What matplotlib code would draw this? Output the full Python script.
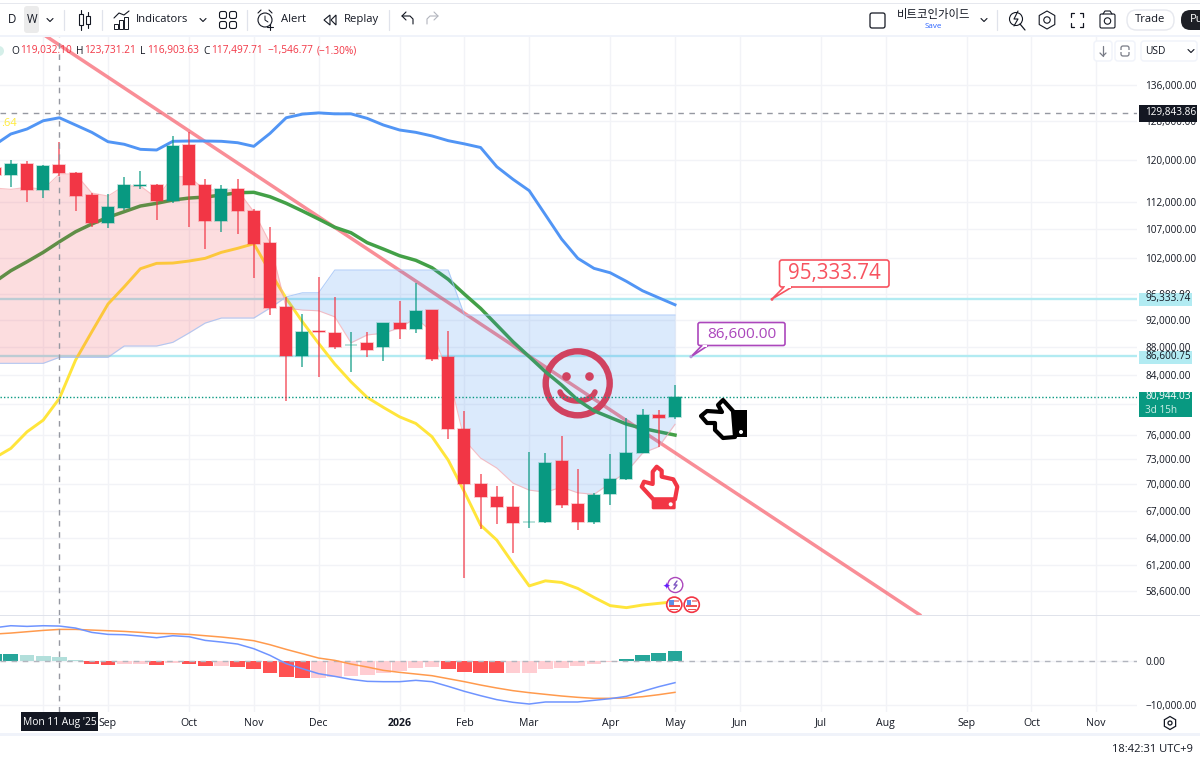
import numpy as np
import matplotlib
matplotlib.use('Agg')
import matplotlib.pyplot as plt
from matplotlib.patches import Rectangle, Circle, Polygon, FancyBboxPatch, RegularPolygon
from matplotlib.ticker import FixedLocator, FixedFormatter, NullLocator
from matplotlib.transforms import blended_transform_factory

plt.rcParams['font.family'] = ['Open Sans', 'Noto Sans CJK KR', 'DejaVu Sans']

# weeks counted back from the current bar (May 2026 = 0)
weeks = list(range(-42, 1))

opens = [118500, 117140, 119240, 114200, 119032.10, 117497.71, 113190, 108100, 110830, 115000, 115150, 112070, 123010, 115150, 108510, 114390, 110280, 104560, 93950, 86640, 90310, 90090, 88230, 88530, 87900, 91480, 90660, 93520, 86450, 76780, 70060, 68510, 67410, 65700, 65680, 72700, 67720, 65680, 68860, 70620, 73750, 78570, 78230]
highs = [119500, 120040, 119780, 119040, 123731.21, 117660, 113630, 113440, 116750, 117860, 115290, 124930, 125830, 116300, 115150, 116300, 110590, 107320, 95590, 92890, 98850, 95590, 90110, 90200, 91570, 94930, 97770, 93520, 90350, 79090, 71150, 69810, 69810, 73870, 73680, 75830, 71740, 69000, 73600, 78170, 79310, 79180, 82530]
lows = [116500, 114820, 111940, 112680, 116903.63, 110280, 107430, 107250, 110460, 114330, 108640, 111700, 107430, 103560, 106540, 106190, 98690, 92760, 80380, 85100, 83700, 87650, 84320, 86540, 85960, 89070, 89960, 85960, 75520, 59840, 64930, 65460, 62380, 65100, 65600, 67230, 64850, 65490, 67600, 70430, 73670, 74420, 77960]
closes = [117020, 119240, 114200, 118900, 117497.71, 113120, 108100, 111070, 115150, 115200, 112070, 122870, 115150, 108510, 114390, 110280, 104440, 93880, 86640, 90200, 90160, 88010, 88300, 87460, 91480, 90660, 93410, 86250, 76760, 70060, 68510, 67410, 65600, 65780, 72500, 67600, 65680, 68740, 70550, 73680, 78490, 78180, 80944.03]

bb_upper = [123080, 125350, 126400, 128150, 128790, 127240, 125700, 123760, 123230, 122200, 122060, 123840, 123900, 123900, 123840, 123550, 122810, 125480, 128790, 129570, 129840, 129630, 129630, 128660, 127240, 126190, 125700, 124950, 123970, 123310, 122570, 118710, 116250, 114080, 109580, 105250, 101930, 100240, 99510, 98100, 96570, 95450, 94350]
bb_basis = [98000, 99850, 101350, 102950, 104780, 106540, 107920, 109130, 110150, 111200, 111700, 112310, 112680, 112870, 113250, 113690, 113760, 112930, 111700, 110280, 108820, 107330, 106360, 104620, 103510, 102370, 101590, 100350, 98430, 96030, 93780, 91220, 88720, 86540, 84400, 82550, 80510, 79090, 78220, 77360, 76810, 76380, 75960]
bb_lower = [73130, 74290, 76370, 77870, 80740, 86060, 90200, 94460, 97210, 100180, 101080, 101130, 101470, 101930, 102950, 103640, 104440, 99680, 95360, 91720, 88480, 85490, 83000, 80870, 79540, 78300, 77440, 75750, 72860, 69110, 65390, 63780, 61350, 59100, 59600, 59440, 58850, 57980, 57190, 57000, 57250, 57410, 57570]

span_a = [114570, 114330, 114710, 114330, 117280, 117280, 113630, 113060, 114970, 114970, 112680, 116750, 116750, 114200, 114200, 114200, 110150, 104560, 93830, 93520, 93410, 92470, 88560, 89730, 89990, 90800, 92290, 90200, 84220, 75330, 73100, 71900, 70120, 69310, 69080, 69650, 69000, 68820, 70120, 71430, 73720, 74510, 77330]
span_b = [85590, 85590, 85590, 85590, 86450, 86450, 86450, 86450, 88090, 88090, 88090, 88630, 90020, 91520, 92290, 92290, 92290, 93830, 95590, 96250, 96250, 99960, 99960, 99960, 99960, 99960, 99960, 99960, 99960, 92750, 92750, 92750, 92750, 92750, 92750, 92750, 92750, 92750, 92750, 92750, 92750, 92750, 92750]

macd_hist = [1430, 1440, 1200, 1050, 750, 225, -680, -900, -825, -825, -1050, -525, -680, -1200, -1200, -1425, -1955, -2855, -3760, -3910, -3910, -3690, -3530, -3230, -2705, -2255, -1580, -1425, -1955, -2480, -2855, -2860, -2855, -2705, -1805, -1580, -1200, -825, -300, 450, 1280, 1655, 2180]
macd_line = [7440, 7895, 7745, 7895, 7820, 7365, 6390, 5940, 5865, 5565, 5190, 5640, 5415, 4585, 4210, 3760, 2705, 1205, -675, -1805, -2930, -3535, -4210, -4660, -4735, -4735, -4435, -4735, -5790, -6915, -7895, -8795, -9395, -9775, -9320, -9320, -9320, -8945, -8570, -8045, -6915, -5865, -4960]
signal_line = [6015, 6240, 6540, 6840, 7065, 7065, 6915, 6765, 6615, 6390, 6165, 6090, 5940, 5640, 5340, 4960, 4510, 3610, 2555, 1580, 600, 75, -750, -1430, -2180, -2630, -3005, -3385, -4060, -4735, -5490, -6165, -6765, -7215, -7595, -7970, -8270, -8495, -8495, -8420, -8120, -7670, -7140]

price_ticks = [136000, 128000, 120000, 112000, 107000, 102000, 96000, 92000, 88000, 84000, 80000, 76000, 73000, 70000, 67000, 64000, 61200, 58600]
# 80,000 and the first Aug sit fully under a label tag in the chart, so no text for them
price_labels = [f'{p:,.2f}' if p != 80000 else '' for p in price_ticks]
month_weeks = [-39, -35, -30, -26, -22, -17, -13, -9, -4, 0, 4, 9, 13, 18, 22, 26]
month_labels = ['', 'Sep', 'Oct', 'Nov', 'Dec', '2026', 'Feb', 'Mar', 'Apr', 'May', 'Jun', 'Jul', 'Aug', 'Sep', 'Oct', 'Nov']

trend_weeks = [-39.2, 15.1]
trend_prices = [148500, 56330]
level_high = 129843.86
level_upper = 95333.74
level_lower = 86600.75
last_close = 80944.03
cross_week = -38

GREEN = '#089981'
RED = '#f23645'
GRID = '#f2f3f7'
TEXT = '#131722'
BAND = '#f0f3fa'

fig = plt.figure(figsize=(12, 7.62), dpi=100, facecolor='white')


def px_axes(x0, y0, x1, y1):
    return fig.add_axes([x0 / 1200, 1 - y1 / 762, (x1 - x0) / 1200, (y1 - y0) / 762])


ax = px_axes(0, 37, 1137, 615)
ax_macd = px_axes(0, 616, 1137, 712)
# pixel layer for the toolbar, drawings and price labels
chrome = fig.add_axes([0, 0, 1, 1], zorder=10)
chrome.set_xlim(0, 1200)
chrome.set_ylim(762, 0)
chrome.axis('off')
chrome.patch.set_alpha(0)

xlim = (-675 / 16.2, (1137 - 675) / 16.2)

# ---- price pane
ax.set_yscale('log')
ax.set_xlim(xlim)
ax.set_ylim(56307, 147310)
ax.yaxis.tick_right()
ax.yaxis.set_major_locator(FixedLocator(price_ticks))
ax.yaxis.set_major_formatter(FixedFormatter(price_labels))
ax.yaxis.set_minor_locator(NullLocator())
ax.xaxis.set_major_locator(FixedLocator(month_weeks))
ax.xaxis.set_minor_locator(NullLocator())
ax.tick_params(axis='y', length=0, pad=5.8, labelsize=7.2, labelcolor=TEXT)
ax.tick_params(axis='x', length=0, labelbottom=False)
ax.grid(True, color=GRID, lw=1)
ax.set_axisbelow(True)
for s in ax.spines.values():
    s.set_visible(False)

ax.axhline(level_upper, color='#b2ebf2', lw=1.7, zorder=1.2)
ax.axhline(level_lower, color='#b2ebf2', lw=1.7, zorder=1.2)
ax.axhline(level_high, color='#9598a1', lw=1, dashes=(4, 4), zorder=1.3)
ax.plot(trend_weeks, trend_prices, color='#f7525f', alpha=0.65, lw=2.5, zorder=1.5)

# smiley is a drawing, it sits under the cloud too
smile_c = '#f23645'
ax.add_patch(Circle((577.7, 383.3), 32, fill=False, ec=smile_c, lw=4.6, transform=chrome.transData, zorder=1.6))
ax.add_patch(Circle((566.5, 376.5), 4.3, fc=smile_c, ec='none', transform=chrome.transData, zorder=1.6))
ax.add_patch(Circle((589.5, 376.5), 4.3, fc=smile_c, ec='none', transform=chrome.transData, zorder=1.6))
ang = np.linspace(0.25, np.pi - 0.25, 30)
ax.plot(577.5 + 18 * np.cos(ang), 389 + 12 * np.sin(ang), color=smile_c, lw=4, solid_capstyle='round',
        transform=chrome.transData, zorder=1.6)

ax.plot(weeks, bb_upper, color='#5195f5', lw=2.1, zorder=2)
ax.plot(weeks, bb_basis, color='#43a047', lw=2.5, zorder=2)
ax.plot(weeks, bb_lower, color='#ffe53b', lw=2.1, zorder=2)

a = np.array(span_a, dtype=float)
b = np.array(span_b, dtype=float)
ax.fill_between(weeks, a, b, where=a >= b, interpolate=True, color=RED, alpha=0.17, lw=0, zorder=3)
ax.fill_between(weeks, a, b, where=a <= b, interpolate=True, color='#2a80ee', alpha=0.165, lw=0, zorder=3)
ax.plot(weeks, span_a, color='#f7a8ae', lw=0.8, alpha=0.7, zorder=3.1)
ax.plot(weeks, span_b, color='#9fc2f7', lw=0.8, alpha=0.8, zorder=3.1)

ax.axhline(last_close, color=GREEN, lw=1, ls=(0, (1, 1.5)), zorder=3.2)

for w, o, h, l, c in zip(weeks, opens, highs, lows, closes):
    col = GREEN if c >= o else RED
    ax.vlines(w, l, h, color=col, lw=1.1, alpha=0.8, zorder=3.5)
    ax.bar(w, abs(c - o), bottom=min(o, c), width=0.75, color=col, edgecolor=col + '55', lw=1.2, zorder=4)

ax.axvline(cross_week, color='#9598a1', lw=1, dashes=(4, 4), zorder=3.6)

# ---- macd pane
ax_macd.set_xlim(xlim)
ax_macd.set_ylim(-11580, 10090)
ax_macd.yaxis.tick_right()
ax_macd.yaxis.set_major_locator(FixedLocator([0, -10000]))
ax_macd.yaxis.set_major_formatter(FixedFormatter(['0.00', '\u221210,000.00']))
ax_macd.xaxis.set_major_locator(FixedLocator(month_weeks))
ax_macd.xaxis.set_major_formatter(FixedFormatter(month_labels))
ax_macd.tick_params(axis='y', length=0, pad=5.8, labelsize=7.2, labelcolor=TEXT)
ax_macd.tick_params(axis='x', length=0, pad=4, labelsize=7.6, labelcolor=TEXT)
ax_macd.grid(True, color=GRID, lw=1)
ax_macd.set_axisbelow(True)
for s in ax_macd.spines.values():
    s.set_visible(False)
for lab, txt in zip(ax_macd.get_xticklabels(), month_labels):
    if txt == '2026':
        lab.set_fontweight('bold')

bar_colors = []
for i, v in enumerate(macd_hist):
    prev = macd_hist[i - 1] if i else v
    if v >= 0:
        bar_colors.append('#26a69a' if v >= prev else '#b2dfdb')
    else:
        bar_colors.append('#ff5252' if v < prev else '#ffcdd2')
ax_macd.bar(weeks, macd_hist, width=0.92, color=bar_colors, zorder=2)
ax_macd.axhline(0, color='#b2b5be', lw=1, dashes=(4, 4), zorder=2.5)
ax_macd.plot(weeks, signal_line, color='#ff9a4d', lw=1.1, zorder=3)
ax_macd.plot(weeks, macd_line, color='#6f94ff', lw=1.1, zorder=3)
ax_macd.axvline(cross_week, color='#9598a1', lw=1, dashes=(4, 4), zorder=3)


# ---- chrome helpers
def rect(x0, y0, x1, y1, fc='white', ec='none', lw=1, z=1):
    chrome.add_patch(Rectangle((x0, y0), x1 - x0, y1 - y0, fc=fc, ec=ec, lw=lw, zorder=z))


def pill(x0, y0, x1, y1, r, fc='white', ec='none', lw=1, z=2):
    chrome.add_patch(FancyBboxPatch((x0 + r, y0 + r), x1 - x0 - 2 * r, y1 - y0 - 2 * r,
                                    boxstyle=f'round,pad={r},rounding_size={r}', fc=fc, ec=ec, lw=lw, zorder=z))


def line(xs, ys, color=TEXT, lw=1, z=3):
    chrome.plot(xs, ys, color=color, lw=lw, zorder=z, solid_capstyle='round', solid_joinstyle='round')


def text(x, y, s, size=8, color=TEXT, ha='left', z=4, **kw):
    chrome.text(x, y, s, fontsize=size, color=color, ha=ha, va='center', zorder=z, **kw)


def chevron(x, y, color=TEXT):
    line([x - 3, x, x + 3], [y - 1.5, y + 1.5, y - 1.5], color=color, lw=0.8)


# panes and bands
rect(0, 0, 1200, 35, fc='white')
rect(0, 2.5, 1200, 3.6, fc='#e6e8ee', z=1.1)
rect(0, 35, 1200, 37, fc=BAND)
rect(0, 615, 1200, 616, fc='#e0e3eb')
rect(0, 733, 1200, 735.5, fc=BAND)

# toolbar left
pill(24, 6, 39, 33, 3, fc='#ebebeb')
text(12, 19.5, 'D', 8.3, ha='center')
text(32, 19.5, 'W', 8.3, ha='center')
chevron(50, 20)
for x in (64, 102, 247, 389, 997):
    line([x, x], [10, 30], color='#e0e3eb', lw=0.9)
# candle icon
rect(79, 14, 83, 25, fc='none', ec=TEXT, lw=0.8)
line([81, 81], [10, 14], lw=0.8)
line([81, 81], [25, 30], lw=0.8)
rect(86, 16, 90, 24, fc='none', ec=TEXT, lw=0.8)
line([88, 88], [12, 16], lw=0.8)
line([88, 88], [24, 28], lw=0.8)
# indicators icon
for x0, y0 in ((114, 24), (119, 20), (124, 17)):
    rect(x0, y0, x0 + 3.5, 29, fc='none', ec=TEXT, lw=0.7)
line([114, 119, 124, 129], [18, 13, 15, 11], lw=0.8)
text(135.5, 19.5, 'Indicators', 8.1)
chevron(203, 20)
for cx, cy in ((223, 15), (233, 15), (223, 25), (233, 25)):
    pill(cx - 3.5, cy - 3.5, cx + 3.5, cy + 3.5, 2, fc='none', ec=TEXT, lw=0.8)
# alert icon
chrome.add_patch(Circle((265, 20), 7, fc='none', ec=TEXT, lw=0.8, zorder=3))
line([265, 265, 268], [16, 20, 22], lw=0.7)
line([270, 270], [24, 30], lw=0.8)
line([267, 273], [27, 27], lw=0.8)
line([258, 261], [13, 10], lw=0.8)
line([272, 269], [13, 10], lw=0.8)
text(281, 19.5, 'Alert', 8.1)
# replay icon
chrome.add_patch(Polygon([(330, 15), (324, 20), (330, 25)], closed=True, fc='none', ec=TEXT, lw=0.8, zorder=3))
chrome.add_patch(Polygon([(336, 15), (331, 20), (336, 25)], closed=True, fc='none', ec=TEXT, lw=0.8, zorder=3))
text(344, 19.5, 'Replay', 8.1)
line([406, 402, 406], [12, 16, 20], lw=0.8)
line([402, 410, 413, 413], [16, 16, 19, 24], lw=0.8)
line([434, 438, 434], [12, 16, 20], color='#b2b5be', lw=0.8)
line([438, 430, 427, 427], [16, 16, 19, 24], color='#b2b5be', lw=0.8)

# toolbar right
pill(870, 13, 885, 28, 2, fc='none', ec=TEXT, lw=0.9)
text(933.5, 14.5, '비트코인가이드', 8.2, ha='center', family=['Noto Sans CJK KR', 'DejaVu Sans'])
text(933.5, 27, 'Save', 5.8, color='#2962ff', ha='center')
chevron(984, 20)
chrome.add_patch(Circle((1016, 19), 6.5, fc='none', ec=TEXT, lw=0.8, zorder=3))
line([1020, 1025], [24, 30], lw=0.9)
line([1018, 1014, 1018, 1014], [11, 19, 19, 26], lw=0.8)
chrome.add_patch(RegularPolygon((1047, 20), 6, radius=9, fc='none', ec=TEXT, lw=0.8, zorder=3))
chrome.add_patch(Circle((1047, 20), 3.2, fc='none', ec=TEXT, lw=0.8, zorder=3))
for sx, sy in ((-1, -1), (1, -1), (-1, 1), (1, 1)):
    line([1077 + sx * 3, 1077 + sx * 6, 1077 + sx * 6], [20 + sy * 7, 20 + sy * 7, 20 + sy * 3], lw=0.9)
pill(1100, 14, 1115, 28, 1.5, fc='none', ec=TEXT, lw=0.8)
chrome.add_patch(Circle((1107.5, 21), 3.2, fc='none', ec=TEXT, lw=0.8, zorder=3))
line([1103, 1105, 1110, 1112], [14, 11, 11, 14], lw=0.8)
pill(1127, 10, 1174, 30, 9.5, fc='white', ec='#e6e8ee', lw=1)
text(1150.5, 19.5, 'Trade', 8.1, ha='center')
pill(1181, 10, 1230, 30, 9.5, fc='#1e2026')
text(1190, 19.5, 'Pu', 8.1, color='white')

# legend row
chrome.add_patch(Circle((-1, 51), 5, fc='#d5efe9', ec='none', zorder=3))
ohlc = [(11.5, 'O', TEXT), (20, '119,032.10', RED), (76, 'H', TEXT), (84, '123,731.21', RED),
        (140, 'L', TEXT), (147, '116,903.63', RED), (203, 'C', TEXT), (211, '117,497.71', RED),
        (267, '\u22121,546.77', RED), (317, '(\u22121.30%)', RED)]
for x, s, col in ohlc:
    text(x, 51, s, 7.3, color=col)
text(1, 124, '.64', 8, color='#ffeb3b')

# price scale buttons
pill(1094, 41, 1112, 61, 3, fc='white', ec='#f0f3fa')
pill(1115, 41, 1135, 61, 3, fc='white', ec='#f0f3fa')
pill(1141, 41, 1197, 61, 3, fc='white', ec='#f0f3fa')
line([1103, 1103], [46, 56], color='#787b86', lw=0.9)
line([1100, 1103, 1106], [53, 56, 53], color='#787b86', lw=0.9)
pill(1121, 46, 1129, 56, 2, fc='none', ec='#787b86', lw=0.9)
rect(1118, 50, 1132, 52, fc='white', z=3)
text(1145, 51, 'USD', 7.4)
chevron(1191, 51)

# price labels
yt = blended_transform_factory(chrome.transData, ax.transData)


def price_label(y0, y1, x1, price, fc, tc):
    rect(1139, y0, x1, y1, fc=fc, z=5)
    chrome.text(1145, price, f'{price:,.2f}', transform=yt, fontsize=7.2, color=tc, va='center', zorder=6)


price_label(105, 121.7, 1197, level_high, '#131722', 'white')
price_label(292.7, 306, 1192, level_upper, '#b2ebf2', TEXT)
price_label(351, 364, 1192, level_lower, '#b2ebf2', TEXT)
price_label(392, 417, 1192, last_close, GREEN, 'white')
text(1145, 410.5, '3d 15h', 7.2, color='#cdeee6', z=6)

# callouts
CALL_RED = '#f7525f'
pill(779.5, 260, 889, 287, 2.5, fc='white', ec=CALL_RED, lw=1.2)
chrome.add_patch(Polygon([(784, 287), (772, 299), (792, 287)], closed=False, fc='white', ec=CALL_RED, lw=1.2, zorder=3))
rect(785, 286, 791, 288.2, fc='white', z=3.1)
chrome.add_patch(Circle((772, 299.3), 1.5, fc=CALL_RED, ec='none', zorder=4))
text(834, 273, '95,333.74', 14.8, color=CALL_RED, ha='center')
CALL_PUR = '#ab47bc'
pill(698, 322.5, 785, 345.5, 2, fc='white', ec=CALL_PUR, lw=1.2)
chrome.add_patch(Polygon([(702, 345.5), (691, 356.7), (708, 345.5)], closed=False, fc='white', ec=CALL_PUR, lw=1.2, zorder=3))
rect(703, 344.5, 707, 346.6, fc='white', z=3.1)
chrome.add_patch(Circle((691, 356.7), 1.6, fc='#b39ddb', ec='none', zorder=4))
text(741.5, 334, '86,600.00', 11.1, color=CALL_PUR, ha='center')

# black hand pointing left
chrome.add_patch(Polygon([(733, 411), (723, 400), (718, 405), (722, 412), (707, 411), (701, 416), (707, 423),
                          (715, 423), (715, 430), (723, 438), (735, 437)], closed=True, fc='white', ec='black',
                         lw=3, joinstyle='round', zorder=3))
rect(733, 410, 747, 437, fc='black', z=3.1)
chrome.add_patch(Circle((741, 432), 2, fc='white', ec='none', zorder=3.2))

# red hand pointing up
chrome.add_patch(Polygon([(653.3, 499.3), (641.7, 486.7), (644, 481.7), (652.7, 484), (652.7, 471.7), (656.7, 466.7),
                          (661.7, 470.7), (661.7, 476.7), (673.3, 479.3), (677.3, 486.7), (675, 499.3)], closed=True,
                         fc='white', ec=RED, lw=3, joinstyle='round', zorder=3))
pill(651.7, 499.3, 675.7, 509.3, 1.5, fc=RED, z=3.1)
chrome.add_patch(Circle((670.7, 504.3), 2, fc='white', ec='none', zorder=3.2))

# event icons
chrome.add_patch(Circle((675.3, 585), 7.5, fc='white', ec=CALL_PUR, lw=1, zorder=3))
line([677, 674, 677, 674], [581, 585, 585, 589], color='#7e57c2', lw=1)
text(666.7, 587.3, '\u2726', 6.5, color='#651fff', ha='center', family=['DejaVu Sans'])
for cx in (674.3, 691.7):
    chrome.add_patch(Circle((cx, 604.7), 7.6, fc='white', ec=RED, lw=1.2, zorder=3))
    rect(cx - 5, 600, cx - 0.5, 604.5, fc='#5c8fe8', z=3.1)
    rect(cx, 600, cx + 5, 601.5, fc='#ef9a9a', z=3.1)
    rect(cx - 5.5, 605, cx + 5.5, 607, fc='#ef5350', z=3.1)
    rect(cx - 4, 609, cx + 4, 610, fc='#ef5350', z=3.1)

# date tag and footer
rect(21, 712, 98, 731, fc='#131722', z=5)
text(59.5, 723, "Mon 11 Aug '25", 7.4, color='white', ha='center', z=6)
chrome.add_patch(RegularPolygon((1170, 723), 6, radius=6.5, fc='none', ec=TEXT, lw=0.9, zorder=3))
chrome.add_patch(Circle((1170, 723), 2, fc='none', ec=TEXT, lw=0.9, zorder=3))
text(1193, 750, '18:42:31 UTC+9', 8, ha='right')

plt.savefig('out.png', dpi=100)
